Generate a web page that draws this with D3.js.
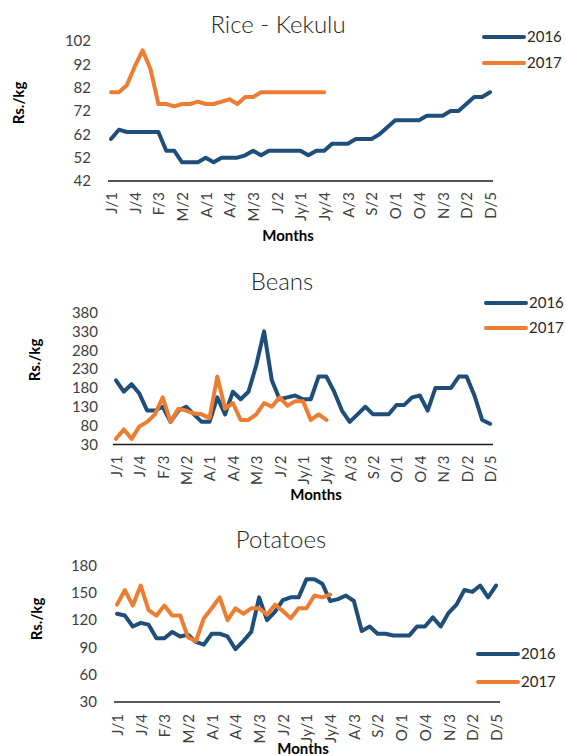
<!DOCTYPE html>
<html>
<head>
<meta charset="utf-8">
<script src="https://cdn.jsdelivr.net/npm/d3@7"></script>
<style>
  body { margin: 0; background: #fff; }
  text { font-family: Lato, "Open Sans", sans-serif; fill: #404040; }
</style>
</head>
<body>
<div id="chart"></div>
<script>
// week categories (month initial / week of month)
var weekLabels = ["J/1","J/2","J/3","J/4","F/1","F/2","F/3","F/4","M/1","M/2","M/3","M/4",
  "A/1","A/2","A/3","A/4","M/1","M/2","M/3","M/4","J/1","J/2","J/3","J/4",
  "Jy/1","Jy/2","Jy/3","Jy/4","A/1","A/2","A/3","A/4","S/1","S/2","S/3","S/4",
  "O/1","O/2","O/3","O/4","N/1","N/2","N/3","N/4","D/1","D/2","D/3","D/4","D/5"];

var seriesNames = ["2016", "2017"];

var rice2016 = [60,64,63,63,63,63,63,55,55,50,50,50,52,50,52,52,52,53,55,53,55,55,55,55,55,53,55,55,
  58,58,58,60,60,60,62,65,68,68,68,68,70,70,70,72,72,75,78,78,80];
var rice2017 = [80,80,83,91,98,90,75,75,74,75,75,76,75,75,76,77,75,78,78,80,80,80,80,80,80,80,80,80];
var riceTicks = [42,52,62,72,82,92,102];

var beans2016 = [200,170,190,165,120,120,130,90,120,130,110,90,90,155,110,170,150,170,240,330,
  200,150,155,160,150,150,210,210,170,120,90,110,130,110,110,110,135,135,155,160,
  120,180,180,180,210,210,160,95,85];
var beans2017 = [45,70,45,78,90,110,155,90,125,120,112,110,100,210,125,140,95,95,110,140,
  130,155,133,145,145,95,110,95];
var beansTicks = [30,80,130,180,230,280,330,380];

var potatoes2016 = [127,125,113,117,115,100,100,107,102,104,96,93,105,105,102,88,97,107,145,120,
  129,142,145,145,165,165,160,141,143,147,141,108,113,105,105,103,103,103,113,113,
  123,113,128,137,153,151,158,145,158];
var potatoes2017 = [137,153,136,158,131,125,136,125,125,101,97,122,133,145,120,133,127,133,133,126,
  137,130,122,133,133,147,145,148];
var potatoesTicks = [30,60,90,120,150,180];

var colors = ["#1f4e79", "#ed7d31"];

var svg = d3.select("#chart").append("svg")
    .attr("width", 566)
    .attr("height", 756);

function drawPanel(p) {
  var x = d3.scaleLinear()
      .domain([0, weekLabels.length - 1])
      .range([p.x0, p.x1]);
  var y = d3.scaleLinear()
      .domain([p.yTicks[0], p.yTicks[p.yTicks.length - 1]])
      .range([p.yBottom, p.yTop]);

  var g = svg.append("g");

  g.append("text")
      .attr("x", p.titleX).attr("y", p.titleY)
      .attr("text-anchor", "middle")
      .style("font-size", "24px")
      .style("font-weight", "300")
      .style("fill", "#262626")
      .text(p.title);

  // y axis: labels only
  var gy = g.append("g")
      .attr("transform", "translate(" + p.yLabelX + ",0)")
      .call(d3.axisLeft(y).tickValues(p.yTicks).tickSize(0).tickPadding(0));
  gy.select(".domain").remove();
  gy.selectAll("text").style("font-size", "15px").style("font-family", null);

  // x axis
  var gx = g.append("g")
      .attr("transform", "translate(0," + p.yBottom + ")")
      .call(d3.axisBottom(x)
        .tickValues(d3.range(0, weekLabels.length, 3))
        .tickFormat(function(i) { return weekLabels[i]; })
        .tickSize(0));
  gx.select(".domain").remove();
  gx.selectAll("text")
      .attr("transform", "rotate(-90)")
      .attr("x", -p.labelGap)
      .attr("y", 0)
      .attr("dy", "0.36em")
      .attr("text-anchor", "end")
      .style("font-size", "15px")
      .style("font-family", null);

  g.append("line")
      .attr("x1", p.axisStart).attr("x2", p.axisEnd)
      .attr("y1", p.yBottom).attr("y2", p.yBottom)
      .attr("stroke", p.axisColor)
      .attr("stroke-width", p.axisWidth);

  // axis titles
  g.append("text")
      .attr("transform", "translate(" + p.yTitleX + "," + p.yTitleY + ") rotate(-90)")
      .attr("text-anchor", "middle")
      .style("font-size", "15px")
      .style("font-weight", "bold")
      .style("fill", "#000")
      .text("Rs./kg");
  g.append("text")
      .attr("x", p.xTitleX).attr("y", p.xTitleY)
      .attr("text-anchor", "middle")
      .style("font-size", "15px")
      .style("font-weight", "bold")
      .style("fill", "#000")
      .text("Months");

  var line = d3.line()
      .x(function(d, i) { return x(i); })
      .y(function(d) { return y(d); });

  p.series.forEach(function(s, k) {
    g.append("path")
        .datum(s)
        .attr("fill", "none")
        .attr("stroke", colors[k])
        .attr("stroke-width", 4)
        .attr("stroke-linejoin", "round")
        .attr("stroke-linecap", "round")
        .attr("d", line);
  });

  // legend
  seriesNames.forEach(function(name, k) {
    var ly = p.legendY + k * p.legendStep;
    g.append("line")
        .attr("x1", p.legendX).attr("x2", p.legendX + 40)
        .attr("y1", ly).attr("y2", ly)
        .attr("stroke", colors[k])
        .attr("stroke-width", 4)
        .attr("stroke-linecap", "round");
    g.append("text")
        .attr("x", p.legendX + 43).attr("y", ly)
        .attr("dy", "0.35em")
        .style("font-size", "15px")
        .style("fill", "#262626")
        .text(name);
  });
}

drawPanel({
  title: "Rice - Kekulu", titleX: 278, titleY: 33,
  series: [rice2016, rice2017], yTicks: riceTicks,
  x0: 111, x1: 490, yBottom: 181, yTop: 41,
  axisStart: 108, axisEnd: 493, axisColor: "#1a1a1a", axisWidth: 1.3,
  yLabelX: 91, labelGap: 11,
  yTitleX: 24, yTitleY: 103, xTitleX: 288, xTitleY: 241,
  legendX: 484, legendY: 37, legendStep: 26
});

drawPanel({
  title: "Beans", titleX: 282, titleY: 290,
  series: [beans2016, beans2017], yTicks: beansTicks,
  x0: 116, x1: 490, yBottom: 444.5, yTop: 312.5,
  axisStart: 113, axisEnd: 493, axisColor: "#1a1a1a", axisWidth: 1.3,
  yLabelX: 98, labelGap: 11,
  yTitleX: 40, yTitleY: 360, xTitleX: 316, xTitleY: 500,
  legendX: 486, legendY: 303, legendStep: 25
});

drawPanel({
  title: "Potatoes", titleX: 281, titleY: 548,
  series: [potatoes2016, potatoes2017], yTicks: potatoesTicks,
  x0: 117, x1: 496, yBottom: 702, yTop: 565.5,
  axisStart: 114, axisEnd: 500, axisColor: "#595959", axisWidth: 2,
  yLabelX: 97, labelGap: 12,
  yTitleX: 42, yTitleY: 619, xTitleX: 303, xTitleY: 754,
  legendX: 478, legendY: 654, legendStep: 28
});
</script>
</body>
</html>
